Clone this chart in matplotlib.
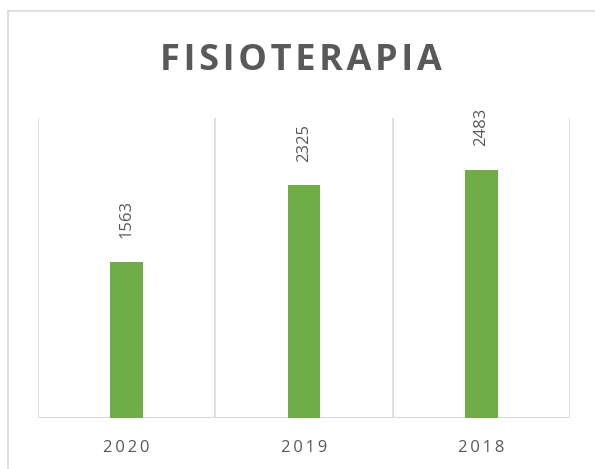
import matplotlib
matplotlib.use("Agg")
import matplotlib.pyplot as plt
from matplotlib.lines import Line2D

years = ["2020", "2019", "2018"]
values = [1563, 2325, 2483]
title = "FISIOTERAPIA"

green = "#70AD47"
grid_c = "#D9D9D9"
text_c = "#595959"

plt.rcParams["font.family"] = ["Open Sans", "DejaVu Sans"]


def spaced(s, sp="\u200a"):
    return sp.join(s)


fig = plt.figure(figsize=(5.95, 4.69), dpi=100)
ax = fig.add_axes([38 / 595, 51 / 469, 532 / 595, 300 / 469])

x = range(len(years))
bars = ax.bar(x, values, width=0.186, color=green, zorder=3)
ax.set_xlim(-0.5, len(years) - 0.5)
ax.set_ylim(0, 3000)

# category separators
for b in [i + 0.5 for i in range(-1, len(years))]:
    ax.axvline(b, color=grid_c, lw=1.2, zorder=1)

for s in ax.spines.values():
    s.set_visible(False)
ax.axhline(0, color=grid_c, lw=1.5, zorder=2)

ax.set_yticks([])
ax.set_xticks(list(x))
ax.set_xticklabels([spaced(y, "\u2009") for y in years], fontsize=12, color=text_c)
ax.tick_params(axis="x", length=0, pad=16)

for xi, v in zip(x, values):
    ax.annotate(str(v), (xi, v), xytext=(0, 17), textcoords="offset points",
                rotation=90, ha="center", va="bottom", fontsize=12, color=text_c)

fig.text(0.505, 1 - 61 / 469, spaced(title, "\u200a"), ha="center", va="center",
         fontsize=26, fontweight="bold", color=text_c)

# chart frame (left and top edges)
fig.add_artist(Line2D([7.5 / 595, 7.5 / 595], [0, 1 - 11.5 / 469], color=grid_c, lw=1.2,
                      transform=fig.transFigure))
fig.add_artist(Line2D([7.5 / 595, 1], [1 - 11.5 / 469, 1 - 11.5 / 469], color=grid_c, lw=1.2,
                      transform=fig.transFigure))

fig.savefig("out.png", dpi=100)
